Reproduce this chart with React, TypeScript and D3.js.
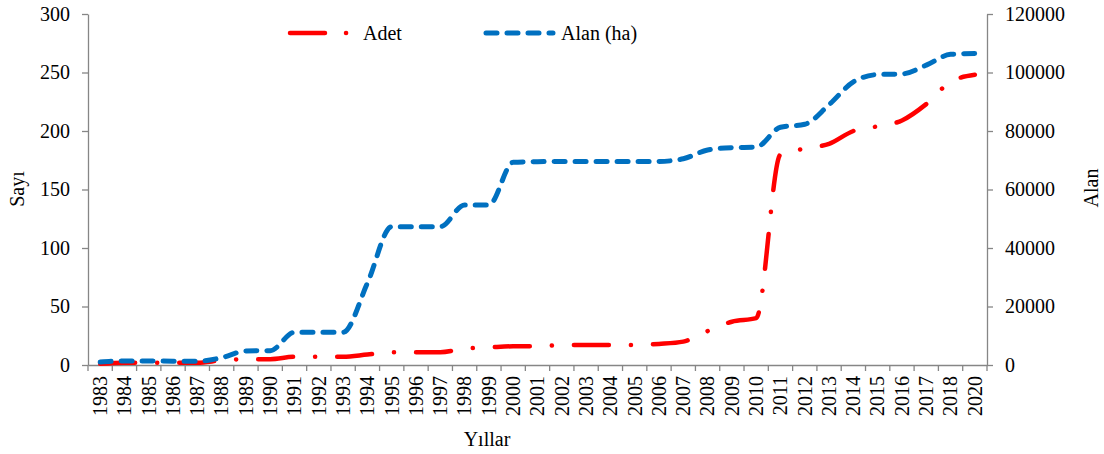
import { useEffect, useRef } from "react";
import * as d3 from "d3";

// categories (2019 is absent in the source chart)
const years = [
  "1983", "1984", "1985", "1986", "1987", "1988", "1989", "1990", "1991", "1992",
  "1993", "1994", "1995", "1996", "1997", "1998", "1999", "2000", "2001", "2002",
  "2003", "2004", "2005", "2006", "2007", "2008", "2009", "2010", "2011", "2012",
  "2013", "2014", "2015", "2016", "2017", "2018", "2020",
];

// Adet (left axis)
const adet = [
  1, 2, 2, 2, 2, 4, 5, 5, 7, 7,
  7, 9, 11, 11, 11, 14, 15, 16, 16, 17,
  17, 17, 17, 18, 20, 29, 37, 40, 180, 185,
  189, 200, 204, 209, 223, 242, 248,
];

// Alan (ha) (right axis)
const alan = [
  1000, 1400, 1400, 1300, 1300, 2500, 4800, 4900, 11200, 11200,
  11200, 28000, 47300, 47300, 47300, 54700, 54700, 69300, 69500, 69600,
  69600, 69600, 69600, 69600, 70500, 73500, 74300, 74500, 81300, 82300,
  89000, 96800, 99300, 99500, 102500, 106200, 106500,
];

const leftTicks = [0, 50, 100, 150, 200, 250, 300];
const rightTicks = [0, 20000, 40000, 60000, 80000, 100000, 120000];

const W = 1104;
const H = 454;
const FONT = "'Liberation Serif', 'Times New Roman', serif";
const AXIS = "#868686";
const RED = "#FF0000";
const BLUE = "#0070C0";

export default function App() {
  const ref = useRef<SVGSVGElement>(null);

  useEffect(() => {
    const svg = d3.select(ref.current);
    svg.selectAll("*").remove();

    const left = 88, right = 987, top = 14, bottom = 365;

    const x = d3.scaleBand().domain(years).range([left, right]).padding(0);
    const cx = (d: string) => (x(d) as number) + x.bandwidth() / 2;
    const yL = d3.scaleLinear().domain([0, 300]).range([bottom, top]);
    const yR = d3.scaleLinear().domain([0, 120000]).range([bottom, top]);

    // left axis
    const gl = svg.append("g")
      .attr("transform", `translate(${left},0)`)
      .call(d3.axisLeft(yL).tickValues(leftTicks).tickSize(6).tickSizeOuter(0).tickPadding(12));
    // right axis
    const gr = svg.append("g")
      .attr("transform", `translate(${right},0)`)
      .call(d3.axisRight(yR).tickValues(rightTicks).tickFormat(d3.format("d"))
        .tickSize(6).tickSizeOuter(0).tickPadding(12));
    // bottom axis, labels in bands
    const gb = svg.append("g")
      .attr("transform", `translate(0,${bottom})`)
      .call(d3.axisBottom(x).tickSize(0).tickSizeOuter(0));
    gb.selectAll(".tick text")
      .attr("transform", "rotate(-90)")
      .attr("text-anchor", "end")
      .attr("x", -11)
      .attr("y", 0)
      .attr("dy", "0.34em");
    // tick marks between categories
    const bounds = years.map((d) => x(d) as number).concat([right]);
    gb.selectAll(".bt")
      .data(bounds)
      .enter().append("line")
      .attr("x1", (d) => d).attr("x2", (d) => d)
      .attr("y1", 0).attr("y2", 6)
      .attr("stroke", AXIS);

    [gl, gr, gb].forEach((g) => {
      g.selectAll(".domain").attr("stroke", AXIS).attr("stroke-width", 1.3);
      g.selectAll("line").attr("stroke", AXIS).attr("stroke-width", 1.3);
      g.selectAll("text")
        .attr("font-family", FONT)
        .attr("font-size", 20)
        .attr("fill", "#000");
    });

    // series
    const lineL = d3.line<number>()
      .x((_, i) => cx(years[i]))
      .y((d) => yL(d))
      .curve(d3.curveMonotoneX);
    const lineR = d3.line<number>()
      .x((_, i) => cx(years[i]))
      .y((d) => yR(d))
      .curve(d3.curveMonotoneX);

    svg.append("path")
      .datum(adet)
      .attr("d", lineL)
      .attr("fill", "none")
      .attr("stroke", RED)
      .attr("stroke-width", 4.5)
      .attr("stroke-linecap", "round")
      .attr("stroke-dasharray", "35 22 0.1 22");

    svg.append("path")
      .datum(alan)
      .attr("d", lineR)
      .attr("fill", "none")
      .attr("stroke", BLUE)
      .attr("stroke-width", 5)
      .attr("stroke-linecap", "round")
      .attr("stroke-dasharray", "11 10");

    // legend
    const lg = svg.append("g");
    lg.append("line")
      .attr("x1", 290).attr("x2", 352).attr("y1", 33).attr("y2", 33)
      .attr("stroke", RED).attr("stroke-width", 4.5)
      .attr("stroke-linecap", "round").attr("stroke-dasharray", "35 21 0.1 22");
    lg.append("text")
      .attr("x", 363).attr("y", 33).attr("dy", "0.34em")
      .attr("font-family", FONT).attr("font-size", 20).text("Adet");
    lg.append("line")
      .attr("x1", 486).attr("x2", 553).attr("y1", 33).attr("y2", 33)
      .attr("stroke", BLUE).attr("stroke-width", 5)
      .attr("stroke-linecap", "round").attr("stroke-dasharray", "11 10");
    lg.append("text")
      .attr("x", 561).attr("y", 33).attr("dy", "0.34em")
      .attr("font-family", FONT).attr("font-size", 20).text("Alan (ha)");

    // axis titles
    svg.append("text")
      .attr("transform", `translate(24,189) rotate(-90)`)
      .attr("text-anchor", "middle")
      .attr("font-family", FONT).attr("font-size", 20).text("Sayı");
    svg.append("text")
      .attr("transform", `translate(1098,188) rotate(-90)`)
      .attr("text-anchor", "middle")
      .attr("font-family", FONT).attr("font-size", 20).text("Alan");
    svg.append("text")
      .attr("x", 487).attr("y", 446)
      .attr("text-anchor", "middle")
      .attr("font-family", FONT).attr("font-size", 20).text("Yıllar");
  }, []);

  return (
    <svg
      ref={ref}
      width={W}
      height={H}
      style={{ position: "absolute", left: 0, top: 0, background: "#fff" }}
    />
  );
}
